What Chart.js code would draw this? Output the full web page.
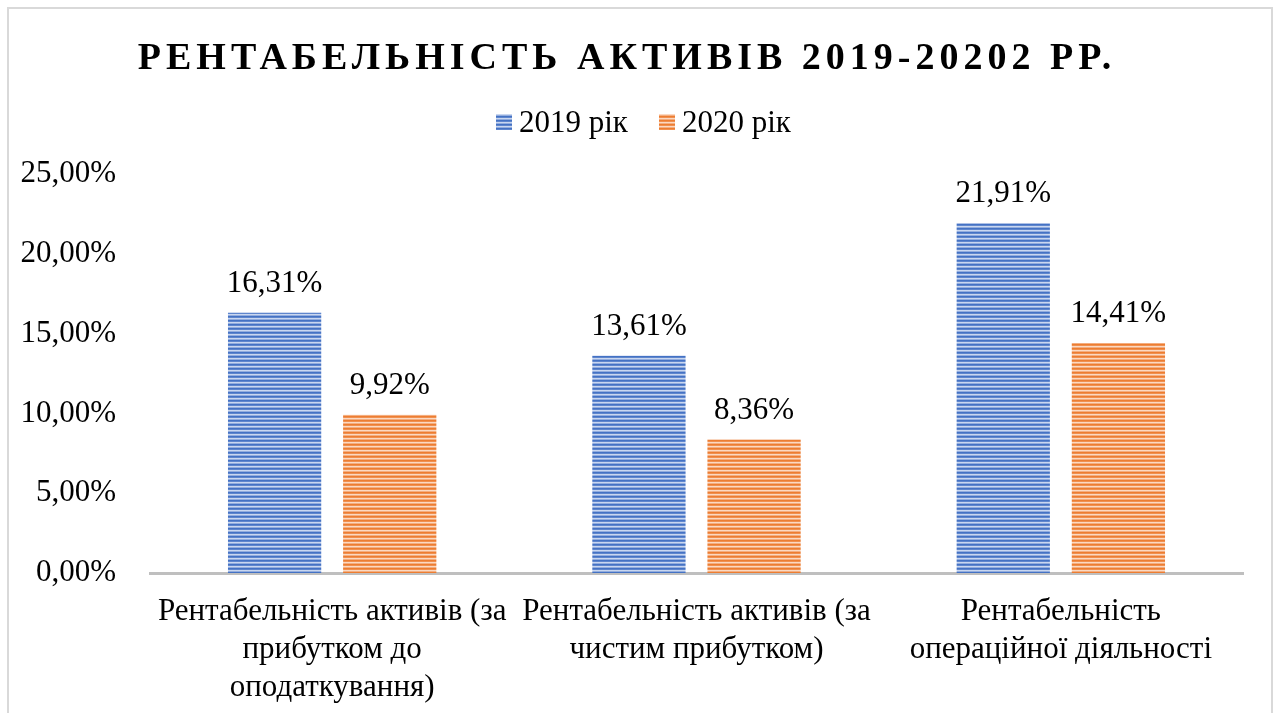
<!DOCTYPE html>
<html>
<head>
<meta charset="utf-8">
<script src="https://cdn.jsdelivr.net/npm/chart.js@4.4.1/dist/chart.umd.min.js"></script>
<style>
  html, body { margin: 0; padding: 0; background: #fff; overflow: hidden; }
  #wrap { position: relative; width: 1277px; height: 713px; }
  #frame { position: absolute; left: 7px; top: 7px; width: 1266px; height: 800px; border: 2px solid #d9d9d9; box-sizing: border-box; pointer-events: none; }
  canvas { position: absolute; left: 0; top: 0; }
</style>
</head>
<body>
<div id="wrap">
  <canvas id="c" width="1277" height="713"></canvas>
  <div id="frame"></div>
</div>
<script>
const titleText = "РЕНТАБЕЛЬНІСТЬ АКТИВІВ 2019-20202 РР.";
const categories = [
  ["Рентабельність активів (за", "прибутком до", "оподаткування)"],
  ["Рентабельність активів (за", "чистим прибутком)"],
  ["Рентабельність", "операційної діяльності"]
];
const seriesNames = ["2019 рік", "2020 рік"];
const values2019 = [16.31, 13.61, 21.91];
const values2020 = [9.92, 8.36, 14.41];
const yTicks = [0, 5, 10, 15, 20, 25];

const FONT = "'Liberation Serif', 'Times New Roman', serif";

function stripePattern(rows) {
  const p = document.createElement('canvas');
  p.width = 4; p.height = rows.length;
  const g = p.getContext('2d');
  rows.forEach((c, i) => { g.fillStyle = c; g.fillRect(0, i, 4, 1); });
  return document.getElementById('c').getContext('2d').createPattern(p, 'repeat');
}
const bluePat = stripePattern(['#4472C4', '#5F86CD', '#C9D7F0', '#93ADDE']);
const orangePat = stripePattern(['#ED7D31', '#F09050', '#FBD9C2', '#F4AE80']);

function fmt(v) { return v.toFixed(2).replace('.', ',') + '%'; }

const decorPlugin = {
  id: 'decor',
  afterDraw(chart) {
    const ctx = chart.ctx;
    ctx.save();
    // title
    ctx.fillStyle = '#000';
    ctx.font = "bold 38px " + FONT;
    ctx.textBaseline = 'alphabetic';
    ctx.textAlign = 'left';
    try { ctx.letterSpacing = '5px'; } catch (e) {}
    const tw = ctx.measureText(titleText).width;
    ctx.fillText(titleText, 627 - tw / 2, 69);
    try { ctx.letterSpacing = '0px'; } catch (e) {}
    // legend
    ctx.font = "31px " + FONT;
    const pats = [bluePat, orangePat];
    const boxX = [496, 659];
    seriesNames.forEach((n, i) => {
      ctx.fillStyle = pats[i];
      ctx.fillRect(boxX[i], 114, 16, 16);
      ctx.fillStyle = '#000';
      ctx.fillText(n, boxX[i] + 23, 132);
    });
    // data labels
    ctx.font = "31px " + FONT;
    ctx.textAlign = 'center';
    ctx.textBaseline = 'middle';
    chart.data.datasets.forEach((ds, di) => {
      const meta = chart.getDatasetMeta(di);
      meta.data.forEach((bar, i) => {
        ctx.fillStyle = '#000';
        ctx.fillText(fmt(ds.data[i]), bar.x, bar.y - 29);
      });
    });
    ctx.restore();
  }
};

new Chart(document.getElementById('c'), {
  type: 'bar',
  data: {
    labels: categories,
    datasets: [
      { label: seriesNames[0], data: values2019, backgroundColor: bluePat, borderWidth: 0 },
      { label: seriesNames[1], data: values2020, backgroundColor: orangePat, borderWidth: 0 }
    ]
  },
  options: {
    responsive: false,
    animation: false,
    devicePixelRatio: 1,
    layout: { padding: { top: 174, right: 34, left: 0, bottom: 0 } },
    datasets: { bar: { categoryPercentage: 0.632, barPercentage: 0.81 } },
    plugins: { legend: { display: false }, title: { display: false }, tooltip: { enabled: false } },
    scales: {
      x: {
        grid: { display: false },
        border: { display: true, color: '#bfbfbf', width: 3 },
        ticks: {
          color: '#000', font: { family: FONT, size: 31, lineHeight: 1.23 },
          maxRotation: 0, minRotation: 0, autoSkip: false, padding: 12
        },
        afterFit(scale) { scale.height = 140; }
      },
      y: {
        min: 0, max: 25,
        grid: { display: false },
        border: { display: false },
        afterBuildTicks(scale) { scale.ticks = yTicks.map(v => ({ value: v })); },
        ticks: {
          color: '#000', font: { family: FONT, size: 31 }, padding: 26,
          callback: (v) => fmt(v)
        },
        afterFit(scale) { scale.width = 150; }
      }
    }
  },
  plugins: [decorPlugin]
});
</script>
</body>
</html>
